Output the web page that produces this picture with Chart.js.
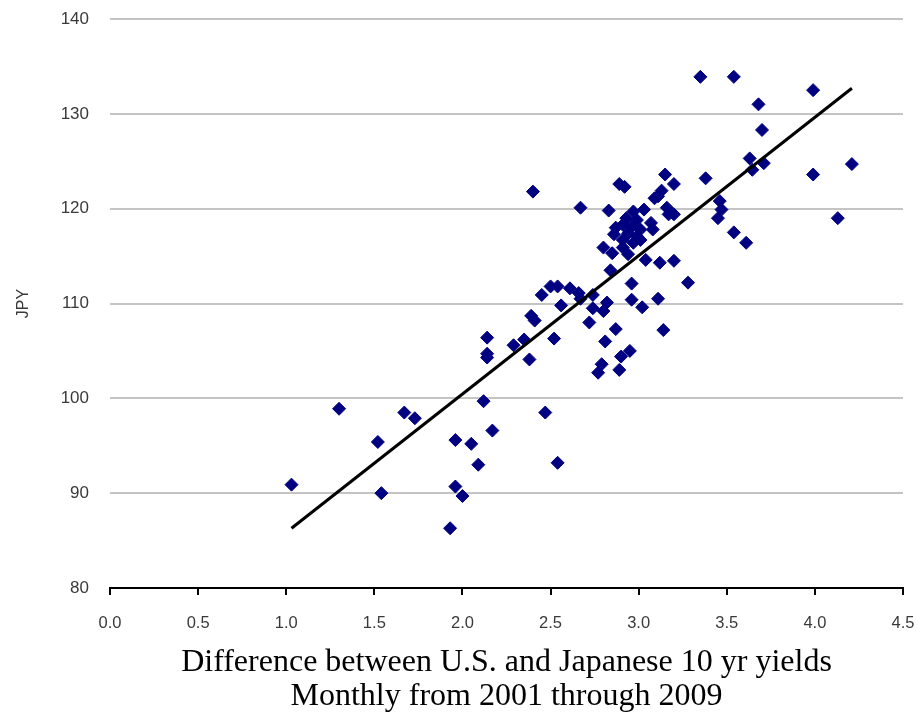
<!DOCTYPE html>
<html><head><meta charset="utf-8">
<script src="https://cdn.jsdelivr.net/npm/chart.js@4.4.1/dist/chart.umd.min.js"></script>
<style>html,body{margin:0;padding:0;background:#fff;}canvas{display:block;}</style>
</head><body>
<canvas id="c" width="918" height="714"></canvas>
<script>
// Yield spread (US - Japan 10yr), percent
const spreadX = [
  1.03, 1.30, 1.52, 1.54, 1.67, 1.73, 1.93, 1.96, 1.96, 2.00,
  2.05, 2.09, 2.12, 2.14, 2.14, 2.14, 2.17, 2.29, 2.35, 2.38,
  2.39, 2.40, 2.41, 2.45, 2.47, 2.50, 2.52, 2.54, 2.54, 2.56,
  2.61, 2.66, 2.67, 2.67, 2.72, 2.74, 2.74, 2.77, 2.79, 2.80,
  2.80, 2.81, 2.82, 2.83, 2.84, 2.85, 2.86, 2.87, 2.87, 2.89,
  2.89, 2.90, 2.91, 2.91, 2.91, 2.92, 2.93, 2.94, 2.94, 2.95,
  2.96, 2.96, 2.96, 2.97, 2.97, 2.99, 2.99, 3.01, 3.01, 3.02,
  3.03, 3.04, 3.07, 3.08, 3.09, 3.11, 3.11, 3.12, 3.13, 3.14,
  3.15, 3.16, 3.17, 3.20, 3.20, 3.20, 3.28, 3.35, 3.38, 3.45,
  3.46, 3.47, 3.54, 3.54, 3.61, 3.63, 3.645, 3.68, 3.70, 3.71,
  3.99, 3.99, 4.13, 4.21
];
// USD/JPY
const jpyY = [
  90.9, 98.9, 95.4, 90.0, 98.5, 97.9, 86.3, 95.6, 90.7, 89.7,
  95.2, 93.0, 99.7, 106.4, 104.7, 104.3, 96.6, 105.6, 106.2, 104.1,
  108.7, 121.8, 108.2, 110.9, 98.5, 111.8, 106.3, 111.8, 93.2, 109.8,
  111.6, 111.1, 110.5, 120.1, 108.0, 110.9, 109.5, 102.7, 103.6, 109.2,
  115.9, 106.0, 110.1, 119.8, 113.5, 115.3, 117.3, 118.0, 107.3, 103.0,
  122.6, 104.4, 118.3, 116.7, 115.9, 122.3, 119.0, 117.4, 115.2, 105.0,
  118.1, 112.1, 110.4, 119.7, 116.4, 118.8, 117.1, 117.8, 116.7, 109.6,
  119.9, 114.6, 118.5, 117.8, 121.1, 121.3, 110.5, 114.3, 121.9, 107.2,
  123.6, 120.1, 119.4, 119.4, 122.6, 114.5, 112.2, 133.9, 123.2, 119.0,
  120.8, 119.9, 133.9, 117.5, 116.4, 125.3, 124.1, 131.0, 128.3, 124.8,
  132.5, 123.6, 119.0, 124.7
];
// Trend line end points
const trendX = [1.03, 4.21];
const trendY = [86.3, 132.7];
// Axis ticks
const xTickValues = [0, 0.5, 1, 1.5, 2, 2.5, 3, 3.5, 4, 4.5];
const yTickValues = [80, 90, 100, 110, 120, 130, 140];
const xTitleLines = ['Difference between U.S. and Japanese 10 yr yields', 'Monthly from 2001 through 2009'];
const yTitle = 'JPY';

const points = spreadX.map((x, i) => ({x: x, y: jpyY[i]}));
const trend = trendX.map((x, i) => ({x: x, y: trendY[i]}));

new Chart(document.getElementById('c'), {
  type: 'scatter',
  data: {
    datasets: [
      {
        type: 'line',
        data: trend,
        borderColor: '#000000',
        borderWidth: 3,
        pointRadius: 0,
        fill: false,
        showLine: true
      },
      {
        data: points,
        pointStyle: 'rectRot',
        pointRadius: 6.5,
        pointBackgroundColor: '#000080',
        pointBorderColor: '#000080',
        pointBorderWidth: 1
      }
    ]
  },
  options: {
    responsive: false,
    animation: false,
    devicePixelRatio: 1,
    layout: {padding: {top: 19, right: 15, bottom: 0, left: 0}},
    plugins: {legend: {display: false}, tooltip: {enabled: false}},
    scales: {
      x: {
        type: 'linear',
        min: 0, max: 4.5,
        afterBuildTicks: s => { s.ticks = xTickValues.map(v => ({value: v})); },
        afterFit: s => { s.height = 126; s.paddingLeft = 0; s.paddingRight = 0; },
        border: {display: true, color: '#000000', width: 2},
        grid: {drawOnChartArea: false, drawTicks: true, tickLength: 7, color: '#000000', lineWidth: 2},
        ticks: {
          padding: 19,
          color: '#3a3a3a',
          font: {family: "'Liberation Sans', Arial, sans-serif", size: 16.5},
          callback: v => Number(v).toFixed(1),
          maxRotation: 0, autoSkip: false
        },
        title: {
          display: true,
          text: xTitleLines,
          color: '#000000',
          font: {family: "'Liberation Serif', 'Times New Roman', serif", size: 32, lineHeight: 1.0625},
          padding: {top: 0, bottom: 0}
        }
      },
      y: {
        type: 'linear',
        min: 80, max: 140,
        afterBuildTicks: s => { s.ticks = yTickValues.map(v => ({value: v})); },
        afterFit: s => { s.width = 110; s.paddingTop = 0; s.paddingBottom = 0; },
        border: {display: false},
        grid: {drawTicks: false, color: '#c4c4c4', lineWidth: 2},
        ticks: {
          padding: 21,
          color: '#3a3a3a',
          font: {family: "'Liberation Sans', Arial, sans-serif", size: 17}
        },
        title: {
          display: true,
          text: yTitle,
          color: '#3a3a3a',
          font: {family: "'Liberation Sans', Arial, sans-serif", size: 16},
          padding: {top: 14, bottom: 0}
        }
      }
    }
  }
});
</script>
</body></html>
